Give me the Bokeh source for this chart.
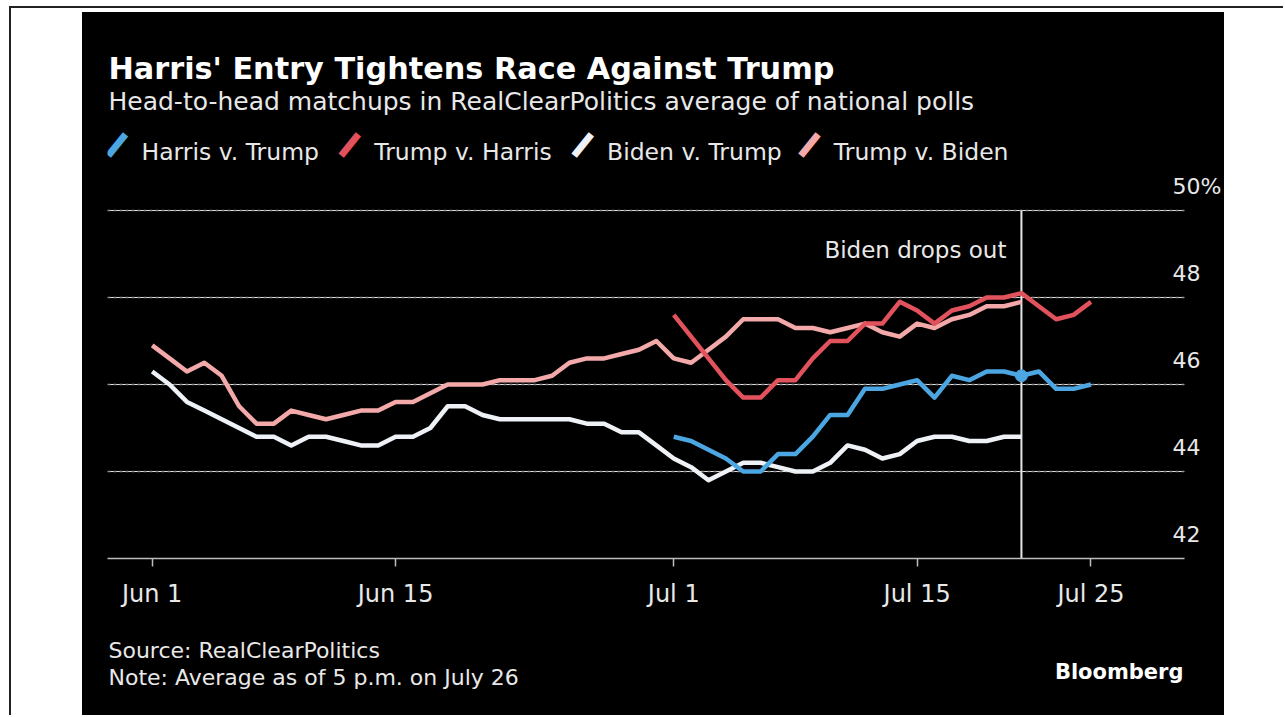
import pandas as pd
from bokeh.plotting import figure
from bokeh.models import (Range1d, FixedTicker, LinearAxis, Label, Grid,
                          DatetimeTickFormatter, Spacer)
from bokeh.layouts import row, column
from bokeh.embed import file_html
from bokeh.resources import INLINE

# ---------------- data ----------------
biden_start, biden_end = "2024-06-01", "2024-07-21"
harris_start, harris_end = "2024-07-01", "2024-07-25"
drop_out_date = "2024-07-21"

trump_v_biden = [46.9, 46.6, 46.3, 46.5, 46.2, 45.5, 45.1, 45.1, 45.4, 45.3,
                 45.2, 45.3, 45.4, 45.4, 45.6, 45.6, 45.8, 46.0, 46.0, 46.0,
                 46.1, 46.1, 46.1, 46.2, 46.5, 46.6, 46.6, 46.7, 46.8, 47.0,
                 46.6, 46.5, 46.8, 47.1, 47.5, 47.5, 47.5, 47.3, 47.3, 47.2,
                 47.3, 47.4, 47.2, 47.1, 47.4, 47.3, 47.5, 47.6, 47.8, 47.8,
                 47.9]
biden_v_trump = [46.3, 46.0, 45.6, 45.4, 45.2, 45.0, 44.8, 44.8, 44.6, 44.8,
                 44.8, 44.7, 44.6, 44.6, 44.8, 44.8, 45.0, 45.5, 45.5, 45.3,
                 45.2, 45.2, 45.2, 45.2, 45.2, 45.1, 45.1, 44.9, 44.9, 44.6,
                 44.3, 44.1, 43.8, 44.0, 44.2, 44.2, 44.1, 44.0, 44.0, 44.2,
                 44.6, 44.5, 44.3, 44.4, 44.7, 44.8, 44.8, 44.7, 44.7, 44.8,
                 44.8]
trump_v_harris = [47.6, 47.1, 46.6, 46.1, 45.7, 45.7, 46.1, 46.1, 46.6, 47.0,
                  47.0, 47.4, 47.4, 47.9, 47.7, 47.4, 47.7, 47.8, 48.0, 48.0,
                  48.1, 47.8, 47.5, 47.6, 47.9]
harris_v_trump = [44.8, 44.7, 44.5, 44.3, 44.0, 44.0, 44.4, 44.4, 44.8, 45.3,
                  45.3, 45.9, 45.9, 46.0, 46.1, 45.7, 46.2, 46.1, 46.3, 46.3,
                  46.2, 46.3, 45.9, 45.9, 46.0]

series_names = ["Harris v. Trump", "Trump v. Harris", "Biden v. Trump", "Trump v. Biden"]
series_colors = ["#4ba6e2", "#e2525c", "#eef2f6", "#f3a9a9"]

x_tick_dates = ["2024-06-01", "2024-06-15", "2024-07-01", "2024-07-15", "2024-07-25"]
y_ticks = [42, 44, 46, 48, 50]
y_tick_labels = ["42", "44", "46", "48", "50%"]

title_text = "Harris' Entry Tightens Race Against Trump"
subtitle_text = "Head-to-head matchups in RealClearPolitics average of national polls"
event_text = "Biden drops out"
source_text = "Source: RealClearPolitics"
note_text = "Note: Average as of 5 p.m. on July 26"
brand_text = "Bloomberg"

# ---------------- build ----------------
biden_dates = pd.date_range(biden_start, biden_end)
harris_dates = pd.date_range(harris_start, harris_end)
drop = pd.Timestamp(drop_out_date)

FONT = "DejaVu Sans"
TXT = "#e8e8e8"
W = 1142
HEAD_H, MAIN_H, FOOT_H = 158, 450, 95
BL, BR = 25, 39          # frame borders shared by the three stacked figures


def blank(h):
    f = figure(width=W, height=h, x_range=Range1d(BL, W - BR), y_range=Range1d(0, h),
               x_axis_location=None, y_axis_location=None,
               output_backend="svg", toolbar_location=None,
               min_border_left=BL, min_border_right=BR,
               min_border_top=0, min_border_bottom=0,
               background_fill_color="black", border_fill_color="black",
               outline_line_color=None)
    f.grid.visible = False
    return f


def lab(f, x, y, text, size, color=TXT, style="normal", align="left",
        baseline="alphabetic", angle=0):
    f.add_layout(Label(x=x, y=y, text=text, text_font=FONT, text_font_size=size,
                       text_color=color, text_font_style=style, text_align=align,
                       text_baseline=baseline, angle=angle))


# header: title, subtitle, legend   (x in panel pixels, y up from header bottom)
head = blank(HEAD_H)
lab(head, 26, 102, title_text, "30.3px", color="#ffffff", style="bold")
lab(head, 26, 69, subtitle_text, "25px")
legend_x = [59, 292, 525, 752]
for lx, name, col in zip(legend_x, series_names, series_colors):
    lab(head, lx - 20, 22, "\u258d", "23px", color=col,
        align="center", baseline="middle", angle=-0.68)
    lab(head, lx, 19, name, "23.5px")

# main chart
x0 = pd.Timestamp("2024-06-01") - pd.Timedelta(days=2.57)
x1 = pd.Timestamp("2024-06-01") + pd.Timedelta(days=59.38)
top_pad, bot_pad = 9, 62
y_top = 42 + (MAIN_H - top_pad - bot_pad) / 43.5

p = figure(width=W, height=MAIN_H, x_axis_type="datetime", y_axis_location=None,
           x_range=Range1d(x0.to_pydatetime(), x1.to_pydatetime()),
           y_range=Range1d(42, y_top),
           output_backend="svg", toolbar_location=None,
           min_border_left=BL, min_border_right=BR,
           min_border_top=top_pad, min_border_bottom=bot_pad,
           background_fill_color="black", border_fill_color="black",
           outline_line_color=None)

shift = 0.563
p.extra_y_ranges = {"lbl": Range1d(42 - shift, y_top - shift)}
yax = LinearAxis(y_range_name="lbl", ticker=FixedTicker(ticks=y_ticks),
                 major_label_overrides={t: l for t, l in zip(y_ticks, y_tick_labels)},
                 axis_line_color=None, major_tick_line_color=None, minor_tick_line_color=None,
                 major_tick_in=0, major_tick_out=0,
                 major_label_standoff=-12, major_label_text_font=FONT,
                 major_label_text_font_size="22px", major_label_text_color=TXT)
p.add_layout(yax, "right")

grid = Grid(dimension=1, ticker=FixedTicker(ticks=y_ticks[1:]),
            grid_line_color="#8f8f8f", grid_line_dash="3 3", grid_line_width=1.5)
p.add_layout(grid)
p.xgrid.visible = False

xt = [pd.Timestamp(d).timestamp() * 1000 for d in x_tick_dates]
p.xaxis.ticker = FixedTicker(ticks=xt)
p.xaxis.formatter = DatetimeTickFormatter(days="%b %-d", months="%b %-d", years="%b %-d",
                                          hours="%b %-d")
p.xaxis.axis_line_color = "#bdbdbd"
p.xaxis.axis_line_width = 1.5
p.xaxis.major_tick_line_color = "#bdbdbd"
p.xaxis.major_tick_line_width = 1.5
p.xaxis.major_tick_in = 0
p.xaxis.major_tick_out = 8
p.xaxis.minor_tick_line_color = None
p.xaxis.major_label_standoff = 13
p.xaxis.major_label_text_font = FONT
p.xaxis.major_label_text_font_size = "24px"
p.xaxis.major_label_text_color = TXT

p.segment(x0=[drop], y0=[y_ticks[0]], x1=[drop], y1=[y_ticks[-1]],
          line_color="#e6e6e6", line_width=2)

lw = 4.5
p.line(biden_dates, trump_v_biden, line_color=series_colors[3], line_width=lw, line_join="round")
p.line(biden_dates, biden_v_trump, line_color=series_colors[2], line_width=lw, line_join="round")
p.line(harris_dates, trump_v_harris, line_color=series_colors[1], line_width=lw, line_join="round")
p.line(harris_dates, harris_v_trump, line_color=series_colors[0], line_width=lw, line_join="round")
drop_idx = list(harris_dates).index(drop)
p.scatter([drop], [harris_v_trump[drop_idx]], size=12, color=series_colors[0])

p.add_layout(Label(x=drop, y=49.1, x_offset=-15, text=event_text, text_align="right",
                   text_baseline="alphabetic", text_font=FONT, text_font_size="23px",
                   text_color=TXT))

# footer
foot = blank(FOOT_H)
lab(foot, 26, 65, source_text, "22px")
lab(foot, 26, 38, note_text, "22px")
lab(foot, W - BR - 1, 44, brand_text, "21px", color="#ffffff", style="bold", align="right")

panel = column(head, p, foot, styles={"background-color": "black"})
layout = column(Spacer(height=4, width=10),
                row(Spacer(width=71, height=10), panel, Spacer(width=59, height=10)),
                styles={"margin-left": "9px", "margin-top": "6px",
                        "border-top": "2px solid #222222", "border-left": "2px solid #222222"})

open("out.html", "w").write(file_html(layout, INLINE))
